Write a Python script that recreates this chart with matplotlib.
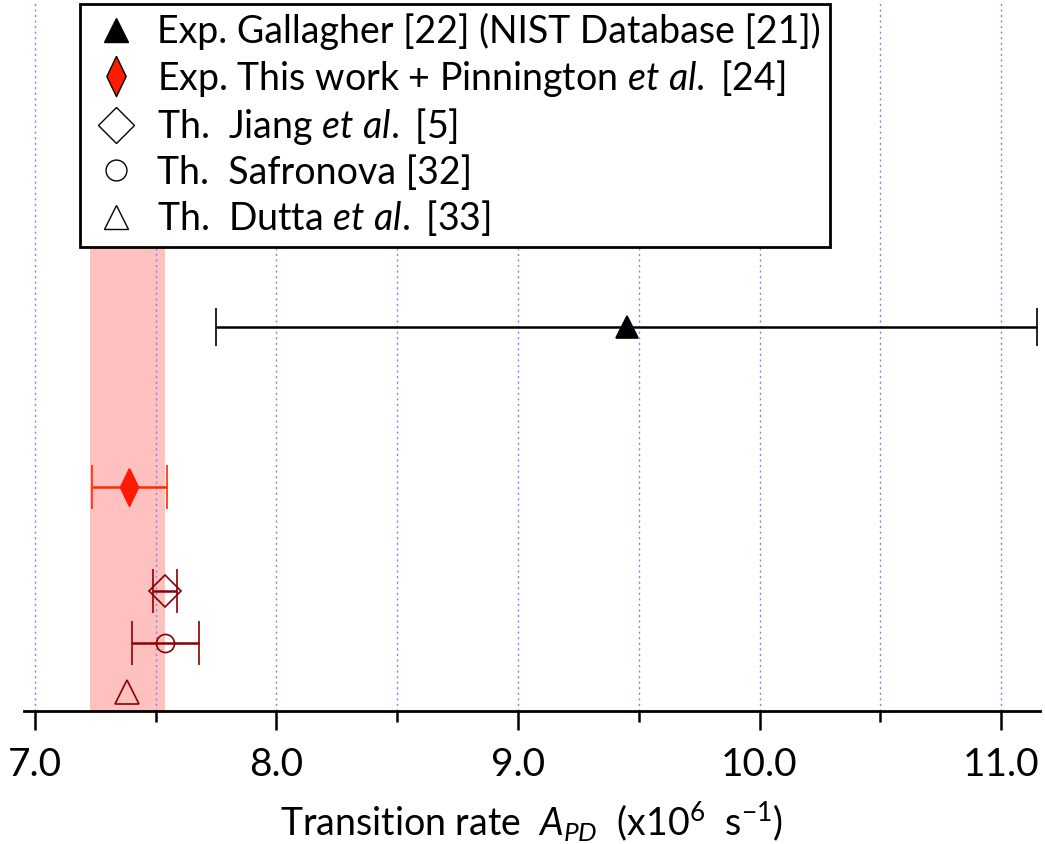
import matplotlib.pyplot as plt
from matplotlib.lines import Line2D

plt.rcParams['font.family'] = ['Lato', 'DejaVu Sans']
plt.rcParams['mathtext.fontset'] = 'custom'
plt.rcParams['mathtext.rm'] = 'Lato'
plt.rcParams['mathtext.it'] = 'Lato:italic'

# datos (x10^6 s^-1)
etiquetas = [r"Exp. Gallagher [22] (NIST Database [21])",
             r"Exp. This work + Pinnington $\mathit{et\ al.}$ [24]",
             r"Th.  Jiang $\mathit{et\ al.}$ [5]",
             r"Th.  Safronova [32]",
             r"Th.  Dutta $\mathit{et\ al.}$ [33]"]
valores = [9.45, 7.39, 7.54, 7.54, 7.38]
errores = [1.70, 0.155, 0.05, 0.14, 0.0]
filas = [5.40, 3.15, 1.69, 0.96, 0.27]
banda = [7.23, 7.54]
banda_alto = 6.51

rombo_fino = [(0, 1), (0.48, 0), (0, -1), (-0.48, 0), (0, 1)]
marcadores = ['^', rombo_fino, 'D', 'o', '^']
rellenos = ['black', '#ff1a00', 'none', 'none', 'none']
bordes = ['black', '#ff1a00', '#8b0000', '#8b0000', '#8b0000']
lineas = ['black', '#ff2a00', '#8b0000', '#8b0000', '#8b0000']
tamanos = [16, 27, 16, 13, 17]
caps = [14, 16, 16, 16, 0]

fig = plt.figure(figsize=(10.45, 8.44), dpi=100)
ax = fig.add_axes([0.023, 0.1576, 0.972, 0.8424])

ax.fill_between(banda, 0, banda_alto, color='#ffc0c0', lw=0, zorder=0)

for i in range(len(valores)):
    ax.errorbar(valores[i], filas[i], xerr=errores[i] if errores[i] > 0 else None,
                marker=marcadores[i], ls='none',
                ms=tamanos[i], mfc=rellenos[i], mec=bordes[i],
                mew=1.2, ecolor=lineas[i], elinewidth=1.8, capsize=caps[i],
                capthick=1.8, zorder=3)

ax.set_xlim(6.955, 11.16)
ax.set_ylim(0, 10)
ax.set_xticks([7, 8, 9, 10, 11])
ax.set_xticklabels(['7.0', '8.0', '9.0', '10.0', '11.0'])
ax.set_xticks([7.5, 8.5, 9.5, 10.5], minor=True)
ax.tick_params(axis='x', which='major', length=14, width=1.8, labelsize=28, pad=12)
ax.tick_params(axis='x', which='minor', length=8, width=1.8)
ax.set_yticks([])
for s in ['top', 'left', 'right']:
    ax.spines[s].set_visible(False)
ax.spines['bottom'].set_linewidth(2)
for xv in [7, 7.5, 8, 8.5, 9, 9.5, 10, 10.5, 11]:
    ax.axvline(xv, color='#8080ff', ls=(0, (1.5, 2.5)), lw=1, zorder=1)

ax.set_xlabel(r"Transition rate  $A_{PD}$  (x10$^{6}$  s$^{-1}$)", fontsize=27, labelpad=12)

# leyenda con marcadores negros
manijas = []
ley_tam = [17, 29, 18, 15, 17]
for i in range(len(etiquetas)):
    relleno = rellenos[i] if rellenos[i] != 'none' else 'white'
    manijas.append(Line2D([], [], ls='none', marker=marcadores[i], ms=ley_tam[i],
                          mfc=relleno, mec='black', mew=1.0))
leg = ax.legend(manijas, etiquetas, loc='upper left', bbox_to_anchor=(0.055, 0.995),
                fontsize=27, frameon=True, fancybox=False, edgecolor='black',
                framealpha=1, handletextpad=0.4, labelspacing=0.2,
                borderpad=0.25, handlelength=1.4, borderaxespad=0)
leg.get_frame().set_linewidth(2)

fig.savefig('out.png', dpi=100)
